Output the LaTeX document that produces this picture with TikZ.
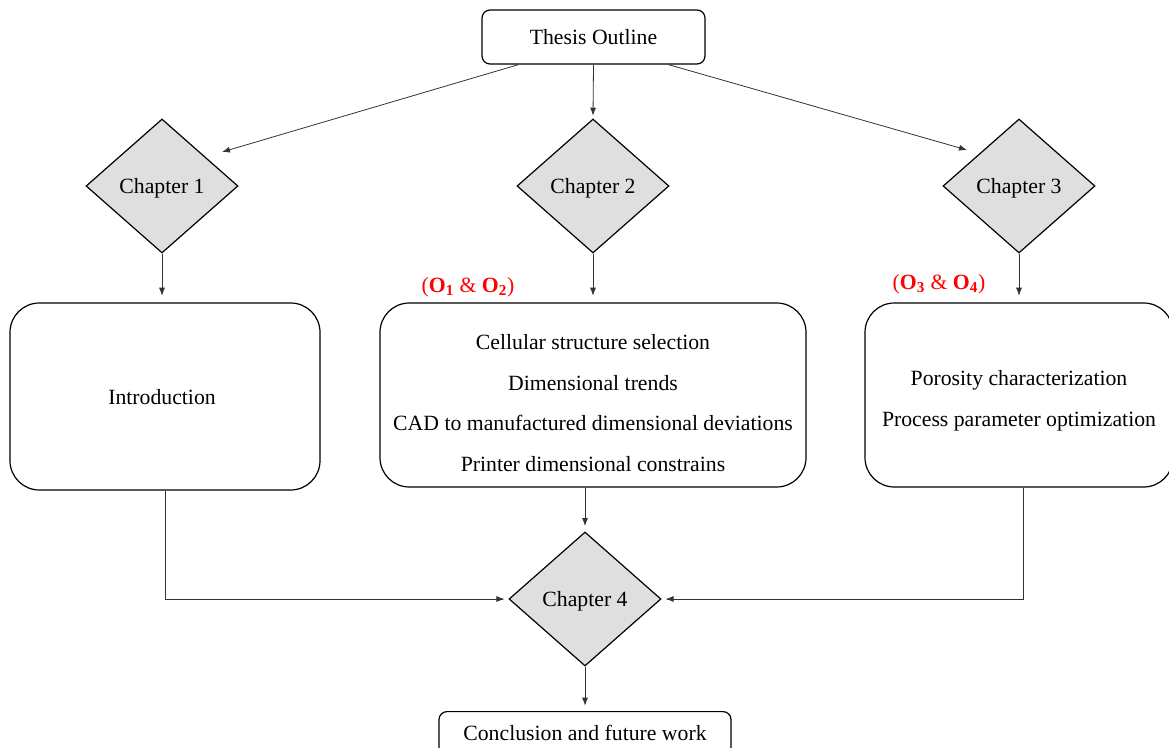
\documentclass[tikz,border=0pt]{standalone}
\usepackage{fontspec}
\setmainfont{Liberation Serif}
\usetikzlibrary{shapes.geometric,arrows.meta,calc}
\begin{document}
\begin{tikzpicture}[x=0.75pt,y=-0.75pt,
  every node/.style={font=\fontsize{16.3}{19}\selectfont},
  rbox/.style={draw=black,line width=0.9pt,rounded corners=6pt,align=center,inner sep=0pt},
  bigbox/.style={rbox,rounded corners=22pt,font=\fontsize{16.3}{30.5}\selectfont},
  dia/.style={diamond,draw=black,line width=0.9pt,fill=gray!25,minimum width=114pt,minimum height=100.5pt,inner sep=0pt,text depth=0pt},
  arr/.style={draw=black!80,line width=0.6pt,-{Latex[length=6pt,width=4.5pt]}},
  ln/.style={draw=black!80,line width=0.6pt},
  lab/.style={text=red,font=\fontsize{16.3}{19}\selectfont},
  txt/.style={align=center,font=\fontsize{16.3}{30.5}\selectfont}
]
\useasboundingbox (0,0) rectangle (1169,748);

\node[rbox,minimum width=167.25pt,minimum height=40.5pt] (top) at (593.5,37) {Thesis Outline};

\node[dia] (ch1) at (162,186) {Chapter 1};
\node[dia] (ch2) at (593,186) {Chapter 2};
\node[dia] (ch3) at (1019,186) {Chapter 3};

\node[bigbox,minimum width=232.5pt,minimum height=140.25pt] (intro) at (165,396.5) {};
\node[txt] (t1) at (162,397) {Introduction};
\node[bigbox,minimum width=319.5pt,minimum height=138pt] (obj2) at (593,395) {};
\node[txt] (t2) at (593,403) {Cellular structure selection\\Dimensional trends\\CAD to manufactured dimensional deviations\\Printer dimensional constrains};
\node[bigbox,minimum width=231pt,minimum height=138pt] (obj3) at (1019,395) {};
\node[txt] (t3) at (1019,400.5) {Porosity characterization\\Process parameter optimization};

\node[lab] (l2) at (468,287) {(\textbf{O\textsubscript{1}} \& \textbf{O\textsubscript{2}})};
\node[lab] (l3) at (939,284) {(\textbf{O\textsubscript{3}} \& \textbf{O\textsubscript{4}})};

\node[dia] (ch4) at (585,599) {Chapter 4};
\node[rbox,minimum width=219pt,minimum height=40.5pt,anchor=north] (conc) at (585,711) {};
\node (tc) at (585,733) {Conclusion and future work};

\coordinate (e1) at (222,152);
\coordinate (e3) at (967,150);
\draw[arr] ($(top.south west)!0.166!(top.south east)$) -- (e1);
\draw[arr] (top.south) -- ([yshift=2pt]ch2.north);
\draw[arr] ($(top.south west)!0.834!(top.south east)$) -- (e3);

\draw[arr,shorten >=5pt] (ch1.south) -- (ch1.south |- intro.north);
\draw[arr,shorten >=5pt] (ch2.south) -- (ch2.south |- obj2.north);
\draw[arr,shorten >=5pt] (ch3.south) -- (ch3.south |- obj3.north);

\draw[arr,shorten >=4pt] (obj2.south -| ch4.north) -- (ch4.north);
\draw[ln] (intro.south) |- ([xshift=-4pt]ch4.west);
\draw[arr] ([xshift=-1pt]ch4.west) ++(-25,0) -- ([xshift=-3pt]ch4.west);
\draw[ln] ($(obj3.south)+(4,0)$) |- ([xshift=4pt]ch4.east);
\draw[arr] ([xshift=1pt]ch4.east) ++(25,0) -- ([xshift=3pt]ch4.east);
\draw[arr,shorten >=4pt] (ch4.south) -- (conc.north);
\end{tikzpicture}
\end{document}
